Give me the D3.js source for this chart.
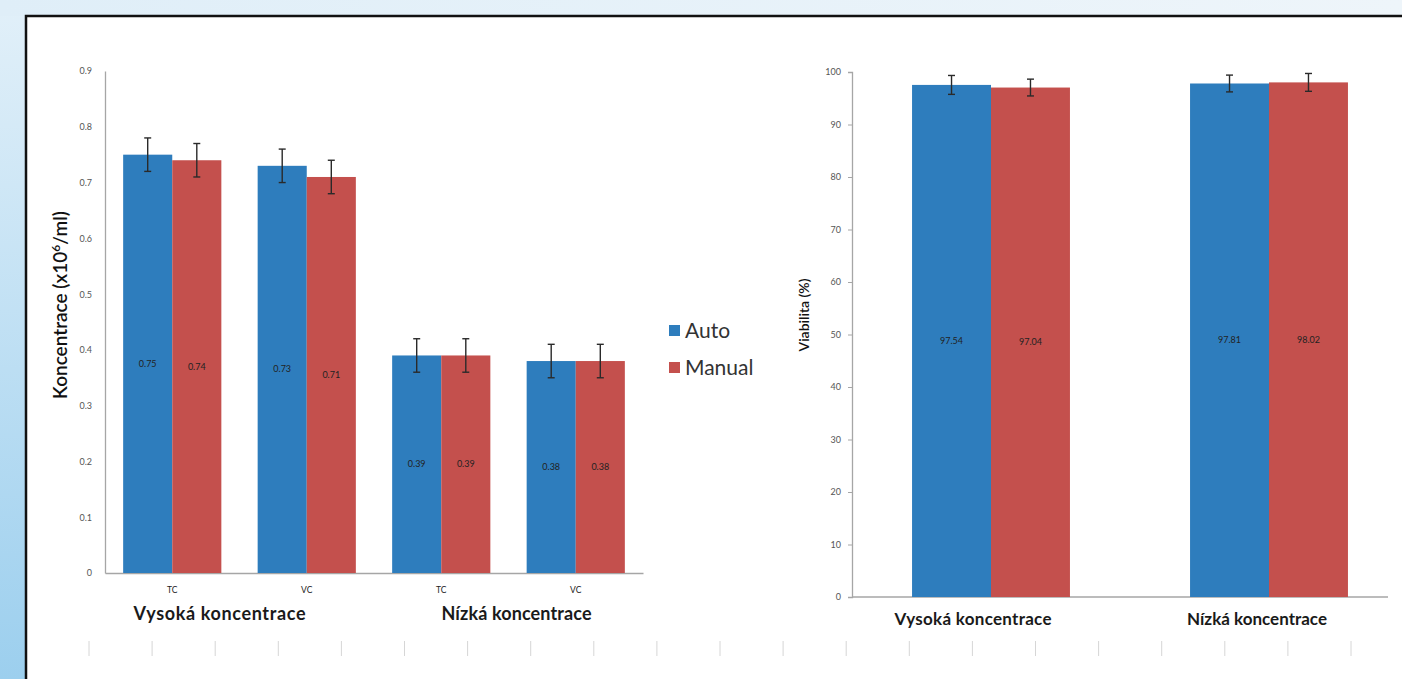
<!DOCTYPE html>
<html><head><meta charset="utf-8">
<script src="https://cdn.jsdelivr.net/npm/d3@7"></script>
<style>body{margin:0;overflow:hidden;background:#fff}svg{display:block}text{font-family:Lato,"Open Sans",sans-serif}</style>
</head><body>
<script>
// ---- data ----
const seriesNames = ["Auto", "Manual"];
const seriesColors = ["#2e7dbd", "#c4504d"];
const leftCategories = ["TC", "VC", "TC ", "VC "];
const leftGroups = ["Vysoká koncentrace", "Nízká koncentrace"];
const leftAuto = [0.75, 0.73, 0.39, 0.38];
const leftManual = [0.74, 0.71, 0.39, 0.38];
const leftAutoErr = [0.03, 0.03, 0.03, 0.03];
const leftManualErr = [0.03, 0.03, 0.03, 0.03];
const leftTicks = [0, 0.1, 0.2, 0.3, 0.4, 0.5, 0.6, 0.7, 0.8, 0.9];
const rightCategories = ["Vysoká koncentrace", "Nízká koncentrace"];
const rightAuto = [97.54, 97.81];
const rightManual = [97.04, 98.02];
const rightAutoErr = [1.8, 1.6];
const rightManualErr = [1.6, 1.7];
const rightTicks = [0, 10, 20, 30, 40, 50, 60, 70, 80, 90, 100];

const W = 1402, H = 679;
const svg = d3.select("body").append("svg").attr("width", W).attr("height", H);
const defs = svg.append("defs");
const g1 = defs.append("linearGradient").attr("id", "bgv").attr("x1", 0).attr("y1", 0).attr("x2", 0).attr("y2", 1);
g1.append("stop").attr("offset", 0).attr("stop-color", "#e2f0f9");
g1.append("stop").attr("offset", 1).attr("stop-color", "#9ccfee");
const g2 = defs.append("linearGradient").attr("id", "bgh").attr("x1", 0).attr("y1", 0).attr("x2", 1).attr("y2", 0);
g2.append("stop").attr("offset", 0).attr("stop-color", "#dfeef8");
g2.append("stop").attr("offset", 1).attr("stop-color", "#eef5fa");

svg.append("rect").attr("width", W).attr("height", H).attr("fill", "url(#bgv)");
svg.append("rect").attr("x", 0).attr("y", 0).attr("width", W).attr("height", 16).attr("fill", "url(#bgh)");
svg.append("rect").attr("x", 26).attr("y", 16).attr("width", W + 10).attr("height", H + 10)
  .attr("fill", "#fff").attr("stroke", "#111").attr("stroke-width", 2.5);

// faint decorative ticks along bottom
svg.append("g").selectAll("line").data(d3.range(89, 1400, 63.1)).join("line")
  .attr("x1", d => d).attr("x2", d => d).attr("y1", 641).attr("y2", 656)
  .attr("stroke", "#d6d6d6").attr("stroke-width", 1);

function errBar(g, x, y0, y1, cap) {
  g.append("line").attr("x1", x).attr("x2", x).attr("y1", y0).attr("y2", y1).attr("stroke", "#2a2a2a").attr("stroke-width", 1.4);
  g.append("line").attr("x1", x - cap).attr("x2", x + cap).attr("y1", y0).attr("y2", y0).attr("stroke", "#2a2a2a").attr("stroke-width", 1.4);
  g.append("line").attr("x1", x - cap).attr("x2", x + cap).attr("y1", y1).attr("y2", y1).attr("stroke", "#2a2a2a").attr("stroke-width", 1.4);
}

// ---- left chart ----
{
  const x = d3.scaleBand().domain(leftCategories).range([105, 643]).paddingInner(0.27).paddingOuter(0.135);
  const xs = d3.scaleBand().domain(seriesNames).range([0, x.bandwidth()]);
  const y = d3.scaleLinear().domain([0, 0.9]).range([573, 71]);
  const g = svg.append("g");
  const yAxis = d3.axisLeft(y).tickValues(leftTicks).tickSize(0).tickPadding(13).tickFormat(d => d === 0 ? "0" : d3.format(".1f")(d));
  const ya = g.append("g").attr("transform", "translate(105,0)").call(yAxis);
  ya.select(".domain").attr("stroke", "#a6a6a6").attr("stroke-width", 1.3);
  ya.selectAll("text").attr("font-size", 9).attr("fill", "#555");
  const xa = g.append("g").attr("transform", "translate(0,573)").call(d3.axisBottom(x).tickSize(0).tickPadding(0).tickFormat(""));
  xa.select(".domain").attr("stroke", "#a6a6a6").attr("stroke-width", 1.3);
  const series = [leftAuto, leftManual], errs = [leftAutoErr, leftManualErr];
  series.forEach((vals, s) => {
    g.append("g").selectAll("rect").data(vals).join("rect")
      .attr("x", (d, i) => x(leftCategories[i]) + xs(seriesNames[s]))
      .attr("y", d => y(d)).attr("width", xs.bandwidth()).attr("height", d => y(0) - y(d))
      .attr("fill", seriesColors[s]);
  });
  series.forEach((vals, s) => {
    vals.forEach((d, i) => {
      const cx = x(leftCategories[i]) + xs(seriesNames[s]) + xs.bandwidth() / 2;
      errBar(g, cx, y(d + errs[s][i]), y(d - errs[s][i]), 3.5);
      g.append("text").attr("x", cx).attr("y", (y(d) + y(0)) / 2 + 3).attr("text-anchor", "middle")
        .attr("font-size", 9).attr("fill", "#222").text(d.toFixed(2));
    });
  });
  leftCategories.forEach(c => {
    g.append("text").attr("x", x(c) + x.bandwidth() / 2).attr("y", 593).attr("text-anchor", "middle")
      .attr("font-size", 8.5).attr("fill", "#222").text(c.trim());
  });
  leftGroups.forEach((gr, k) => {
    const a = x(leftCategories[2 * k]) + x.bandwidth() / 2, b = x(leftCategories[2 * k + 1]) + x.bandwidth() / 2;
    g.append("text").attr("x", (a + b) / 2 + (k === 0 ? -20 : 8)).attr("y", 620).attr("text-anchor", "middle")
      .attr("font-size", 18).attr("font-weight", "bold").attr("fill", "#1a1a1a").attr("textLength", k === 0 ? 172 : 150)
      .text(gr);
  });
  g.append("text").attr("transform", "translate(67,305) rotate(-90)").attr("text-anchor", "middle")
    .attr("font-size", 19).attr("fill", "#111").attr("font-weight", 600)
    .html('Koncentrace (x10<tspan dy="-7" font-size="12">6</tspan><tspan dy="7">/ml)</tspan>');
}

// ---- legend ----
{
  const lg = svg.append("g");
  seriesNames.forEach((n, i) => {
    lg.append("rect").attr("x", 669).attr("y", 325 + i * 37).attr("width", 11).attr("height", 11).attr("fill", seriesColors[i]);
    lg.append("text").attr("x", 685).attr("y", 338 + i * 37).attr("font-size", 21).attr("fill", "#333").text(n);
  });
}

// ---- right chart ----
{
  const x = d3.scaleBand().domain(rightCategories).range([852, 1408]).paddingInner(0.432).paddingOuter(0.216);
  const xs = d3.scaleBand().domain(seriesNames).range([0, x.bandwidth()]);
  const y = d3.scaleLinear().domain([0, 100]).range([597, 72]);
  const g = svg.append("g");
  const ya = g.append("g").attr("transform", "translate(852,0)").call(d3.axisLeft(y).tickValues(rightTicks).tickSize(4).tickPadding(7));
  ya.select(".domain").attr("stroke", "#a6a6a6").attr("stroke-width", 1.3);
  ya.selectAll(".tick line").attr("stroke", "#a6a6a6");
  ya.selectAll("text").attr("font-size", 9).attr("fill", "#555");
  g.append("line").attr("x1", 852).attr("x2", 1388).attr("y1", y(0)).attr("y2", y(0)).attr("stroke", "#a6a6a6").attr("stroke-width", 1.3);
  const series = [rightAuto, rightManual], errs = [rightAutoErr, rightManualErr];
  series.forEach((vals, s) => {
    g.append("g").selectAll("rect").data(vals).join("rect")
      .attr("x", (d, i) => x(rightCategories[i]) + xs(seriesNames[s]))
      .attr("y", d => y(d)).attr("width", xs.bandwidth()).attr("height", d => y(0) - y(d))
      .attr("fill", seriesColors[s]);
  });
  series.forEach((vals, s) => {
    vals.forEach((d, i) => {
      const cx = x(rightCategories[i]) + xs(seriesNames[s]) + xs.bandwidth() / 2;
      errBar(g, cx, y(d + errs[s][i]), y(d - errs[s][i]), 3.5);
      g.append("text").attr("x", cx).attr("y", (y(d) + y(0)) / 2 + 3).attr("text-anchor", "middle")
        .attr("font-size", 9).attr("fill", "#222").text(d.toFixed(2));
    });
  });
  rightCategories.forEach((c, k) => {
    g.append("text").attr("x", x(c) + x.bandwidth() / 2 - (k === 0 ? 18 : 12)).attr("y", 625).attr("text-anchor", "middle")
      .attr("font-size", 17).attr("font-weight", "bold").attr("fill", "#1a1a1a").attr("textLength", k === 0 ? 157 : 140)
      .text(c);
  });
  g.append("text").attr("transform", "translate(809,315) rotate(-90)").attr("text-anchor", "middle")
    .attr("font-size", 14).attr("fill", "#111").attr("font-weight", 600).text("Viabilita (%)");
}
</script>
</body></html>
